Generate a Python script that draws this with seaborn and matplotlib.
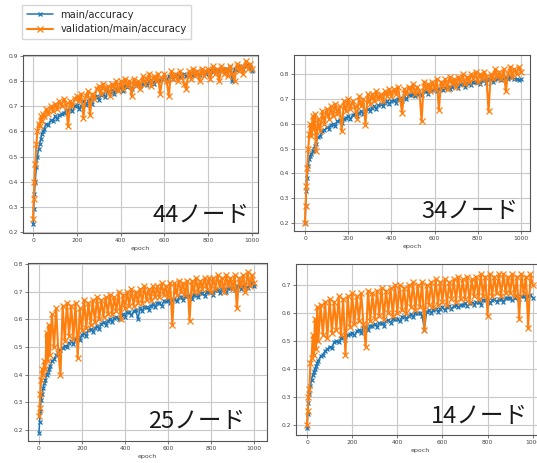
import matplotlib
matplotlib.use("Agg")
import matplotlib.pyplot as plt
import seaborn as sns
import pandas as pd

# ---------------- data ----------------
EPOCHS = [0, 3, 6, 10, 15, 20, 25, 30, 35, 40, 45] + list(range(50, 1001, 10))

main_44 = [0.23, 0.29, 0.35, 0.40, 0.46, 0.50, 0.53, 0.55, 0.57, 0.59, 0.60,
           0.61, 0.63, 0.625, 0.645, 0.64,
           0.66, 0.65, 0.665, 0.67, 0.675, 0.68, 0.685, 0.69, 0.68, 0.70,
           0.705, 0.69, 0.70, 0.72, 0.705, 0.72, 0.73, 0.71, 0.735, 0.74,
           0.725, 0.745, 0.75, 0.735, 0.76, 0.755, 0.765, 0.75, 0.77, 0.765,
           0.775, 0.76, 0.78, 0.775, 0.785, 0.77, 0.79, 0.785, 0.79, 0.78,
           0.79, 0.80, 0.785, 0.80, 0.805, 0.79, 0.81, 0.805, 0.80, 0.81,
           0.815, 0.80, 0.82, 0.815, 0.81, 0.82, 0.825, 0.815, 0.825, 0.83,
           0.82, 0.83, 0.83, 0.825, 0.83, 0.835, 0.825, 0.84, 0.835, 0.83,
           0.84, 0.845, 0.835, 0.845, 0.845, 0.84, 0.845, 0.85, 0.84, 0.85,
           0.855, 0.80, 0.85, 0.845, 0.86, 0.855, 0.85, 0.86, 0.865, 0.855,
           0.84]
val_44 = [0.25, 0.33, 0.40, 0.47, 0.55, 0.60, 0.63, 0.62, 0.66, 0.64, 0.67,
          0.66, 0.69, 0.67, 0.70, 0.68,
          0.71, 0.69, 0.72, 0.70, 0.73, 0.71, 0.62, 0.72, 0.70, 0.73,
          0.74, 0.72, 0.75, 0.655, 0.74, 0.76, 0.665, 0.75, 0.73, 0.77,
          0.78, 0.75, 0.79, 0.76, 0.78, 0.74, 0.79, 0.77, 0.80, 0.76,
          0.80, 0.77, 0.81, 0.78, 0.80, 0.74, 0.81, 0.78, 0.80, 0.77,
          0.82, 0.79, 0.81, 0.83, 0.78, 0.82, 0.80, 0.83, 0.75, 0.81,
          0.83, 0.80, 0.74, 0.84, 0.81, 0.83, 0.80, 0.84, 0.82, 0.79,
          0.77, 0.84, 0.81, 0.85, 0.82, 0.84, 0.80, 0.85, 0.82, 0.84,
          0.85, 0.81, 0.86, 0.83, 0.85, 0.80, 0.86, 0.83, 0.85, 0.82,
          0.86, 0.83, 0.80, 0.87, 0.84, 0.86, 0.83, 0.88, 0.85, 0.87,
          0.85]

main_34 = [0.20, 0.27, 0.33, 0.38, 0.43, 0.46, 0.47, 0.48, 0.49, 0.50, 0.51,
           0.52, 0.545, 0.55, 0.57, 0.575,
           0.585, 0.58, 0.595, 0.60, 0.59, 0.61, 0.615, 0.605, 0.62, 0.625,
           0.63, 0.62, 0.635, 0.64, 0.63, 0.645, 0.65, 0.64, 0.655, 0.66,
           0.65, 0.665, 0.67, 0.66, 0.675, 0.68, 0.67, 0.685, 0.69, 0.68,
           0.69, 0.695, 0.685, 0.70, 0.705, 0.69, 0.71, 0.70, 0.715, 0.715,
           0.72, 0.71, 0.72, 0.725, 0.715, 0.73, 0.73, 0.72, 0.735, 0.735,
           0.74, 0.73, 0.74, 0.745, 0.735, 0.745, 0.75, 0.74, 0.75, 0.755,
           0.755, 0.745, 0.76, 0.76, 0.75, 0.765, 0.765, 0.755, 0.77, 0.77,
           0.77, 0.76, 0.775, 0.775, 0.765, 0.78, 0.78, 0.77, 0.78, 0.785,
           0.785, 0.775, 0.785, 0.79, 0.78, 0.79, 0.79, 0.78, 0.78, 0.775,
           0.78]
val_34 = [0.20, 0.27, 0.35, 0.42, 0.50, 0.56, 0.60, 0.55, 0.63, 0.58, 0.64,
          0.49, 0.62, 0.57, 0.65, 0.60,
          0.66, 0.62, 0.67, 0.63, 0.68, 0.64, 0.67, 0.57, 0.69, 0.65,
          0.70, 0.66, 0.69, 0.67, 0.62, 0.71, 0.67, 0.70, 0.595, 0.72,
          0.68, 0.72, 0.69, 0.73, 0.70, 0.72, 0.69, 0.73, 0.71, 0.74,
          0.71, 0.74, 0.72, 0.75, 0.70, 0.645, 0.74, 0.72, 0.75, 0.73,
          0.76, 0.72, 0.75, 0.73, 0.61, 0.77, 0.74, 0.76, 0.73, 0.77,
          0.74, 0.78, 0.655, 0.77, 0.75, 0.78, 0.74, 0.79, 0.76, 0.78,
          0.75, 0.79, 0.77, 0.80, 0.76, 0.79, 0.77, 0.80, 0.78, 0.81,
          0.77, 0.80, 0.78, 0.81, 0.79, 0.65, 0.80, 0.78, 0.82, 0.79,
          0.81, 0.78, 0.82, 0.73, 0.80, 0.83, 0.79, 0.82, 0.80, 0.83,
          0.81]

main_25 = [0.19, 0.23, 0.27, 0.31, 0.33, 0.35, 0.37, 0.38, 0.40, 0.41, 0.42,
           0.43, 0.45, 0.455, 0.47, 0.475,
           0.49, 0.495, 0.505, 0.50, 0.515, 0.52, 0.51, 0.53, 0.535, 0.525,
           0.545, 0.55, 0.54, 0.56, 0.565, 0.555, 0.57, 0.575, 0.565, 0.585,
           0.59, 0.58, 0.595, 0.60, 0.59, 0.605, 0.61, 0.60, 0.615, 0.62,
           0.61, 0.625, 0.625, 0.615, 0.63, 0.635, 0.60, 0.64, 0.63, 0.645,
           0.645, 0.635, 0.65, 0.655, 0.645, 0.66, 0.66, 0.65, 0.665, 0.665,
           0.67, 0.66, 0.67, 0.675, 0.665, 0.68, 0.68, 0.67, 0.685, 0.685,
           0.685, 0.675, 0.69, 0.69, 0.68, 0.695, 0.695, 0.685, 0.70, 0.70,
           0.70, 0.69, 0.705, 0.705, 0.695, 0.71, 0.71, 0.70, 0.715, 0.715,
           0.715, 0.705, 0.72, 0.72, 0.71, 0.72, 0.725, 0.715, 0.725, 0.73,
           0.72]
val_25 = [0.25, 0.28, 0.33, 0.38, 0.42, 0.40, 0.45, 0.42, 0.55, 0.45, 0.58,
          0.47, 0.62, 0.50, 0.64, 0.48,
          0.40, 0.65, 0.52, 0.66, 0.54, 0.65, 0.53, 0.66, 0.46, 0.64,
          0.56, 0.67, 0.57, 0.66, 0.58, 0.67, 0.59, 0.68, 0.60, 0.67,
          0.61, 0.68, 0.62, 0.69, 0.62, 0.68, 0.63, 0.70, 0.60, 0.69,
          0.64, 0.70, 0.65, 0.71, 0.65, 0.70, 0.66, 0.71, 0.66, 0.72,
          0.67, 0.71, 0.67, 0.72, 0.68, 0.72, 0.68, 0.73, 0.69, 0.72,
          0.68, 0.73, 0.58, 0.73, 0.69, 0.74, 0.70, 0.73, 0.69, 0.74,
          0.595, 0.74, 0.70, 0.75, 0.70, 0.74, 0.71, 0.75, 0.71, 0.75,
          0.70, 0.75, 0.71, 0.76, 0.72, 0.75, 0.70, 0.76, 0.72, 0.75,
          0.71, 0.76, 0.64, 0.75, 0.72, 0.76, 0.70, 0.77, 0.72, 0.76,
          0.73]

main_14 = [0.19, 0.24, 0.28, 0.31, 0.34, 0.36, 0.38, 0.39, 0.40, 0.41, 0.42,
           0.43, 0.445, 0.45, 0.465, 0.47,
           0.48, 0.475, 0.495, 0.50, 0.495, 0.51, 0.515, 0.505, 0.52, 0.525,
           0.53, 0.52, 0.535, 0.54, 0.53, 0.545, 0.55, 0.54, 0.555, 0.555,
           0.56, 0.55, 0.565, 0.565, 0.555, 0.57, 0.575, 0.565, 0.58, 0.58,
           0.58, 0.57, 0.585, 0.59, 0.58, 0.59, 0.595, 0.585, 0.60, 0.60,
           0.60, 0.59, 0.54, 0.605, 0.61, 0.60, 0.61, 0.615, 0.605, 0.615,
           0.62, 0.61, 0.62, 0.625, 0.615, 0.625, 0.63, 0.62, 0.63, 0.63,
           0.635, 0.625, 0.635, 0.635, 0.63, 0.64, 0.64, 0.63, 0.645, 0.645,
           0.645, 0.635, 0.645, 0.65, 0.64, 0.65, 0.65, 0.64, 0.655, 0.655,
           0.655, 0.645, 0.655, 0.66, 0.65, 0.66, 0.66, 0.65, 0.66, 0.665,
           0.655]
val_14 = [0.20, 0.25, 0.30, 0.33, 0.42, 0.44, 0.52, 0.45, 0.58, 0.47, 0.62,
          0.50, 0.63, 0.52, 0.64, 0.51,
          0.65, 0.53, 0.64, 0.54, 0.66, 0.52, 0.65, 0.45, 0.66, 0.55,
          0.67, 0.56, 0.66, 0.57, 0.67, 0.56, 0.48, 0.68, 0.57, 0.67,
          0.58, 0.68, 0.59, 0.69, 0.58, 0.68, 0.60, 0.69, 0.59, 0.70,
          0.60, 0.70, 0.61, 0.69, 0.60, 0.70, 0.62, 0.71, 0.61, 0.70,
          0.62, 0.71, 0.54, 0.70, 0.63, 0.71, 0.62, 0.72, 0.63, 0.71,
          0.64, 0.72, 0.63, 0.71, 0.65, 0.72, 0.64, 0.73, 0.65, 0.72,
          0.65, 0.73, 0.64, 0.72, 0.66, 0.73, 0.65, 0.74, 0.66, 0.73,
          0.59, 0.74, 0.66, 0.73, 0.67, 0.74, 0.66, 0.74, 0.67, 0.73,
          0.67, 0.74, 0.66, 0.73, 0.58, 0.74, 0.67, 0.73, 0.545, 0.74,
          0.70]

PANEL_LABELS = ["44ノード", "34ノード", "25ノード", "14ノード"]
SERIES_NAMES = ["main/accuracy", "validation/main/accuracy"]
X_TICKS = [0, 200, 400, 600, 800, 1000]
Y_TICKS = [[0.2, 0.3, 0.4, 0.5, 0.6, 0.7, 0.8, 0.9],
           [0.2, 0.3, 0.4, 0.5, 0.6, 0.7, 0.8],
           [0.2, 0.3, 0.4, 0.5, 0.6, 0.7, 0.8],
           [0.2, 0.3, 0.4, 0.5, 0.6, 0.7]]

# ---------------- layout (pixels of a 537x463 canvas) ----------------
W, H = 537, 463
sns.set_style("ticks")
plt.rcParams["font.family"] = ["DejaVu Sans"]

fig = plt.figure(figsize=(W / 100, H / 100), dpi=100)

# (left, right, top, bottom) in px, xlim, ylim
boxes = [
    ((23, 258, 55, 233), (-46, 1027), (0.196, 0.904)),
    ((294, 530, 55, 231), (-51, 1042), (0.168, 0.877)),
    ((28, 267, 263, 441), (-51, 1060), (0.160, 0.804)),
    ((296, 544, 264, 435), (-49, 1050), (0.164, 0.775)),
]
text_pos = [(250, 222), (518, 218), (245, 428), (528, 423)]
series = [(main_44, val_44), (main_34, val_34), (main_25, val_25), (main_14, val_14)]
colors = ["#1f77b4", "#ff7f0e"]
widths = [1.1, 1.5]
msizes = [3.2, 3.8]

handles = None
for i, ((l, r, t, b), xl, yl) in enumerate(boxes):
    ax = fig.add_axes([l / W, 1 - b / H, (r - l) / W, (b - t) / H])
    df = pd.DataFrame({"epoch": EPOCHS, SERIES_NAMES[0]: series[i][0],
                       SERIES_NAMES[1]: series[i][1]})
    for name, c, lw, ms in zip(SERIES_NAMES, colors, widths, msizes):
        sns.lineplot(data=df, x="epoch", y=name, ax=ax, color=c, lw=lw,
                     marker="x", markersize=ms, markeredgecolor=c,
                     markeredgewidth=0.9, label=name, legend=False)
    ax.set_xlim(*xl)
    ax.set_ylim(*yl)
    ax.set_xticks(X_TICKS)
    ax.set_yticks(Y_TICKS[i])
    ax.set_yticklabels([f"{v:.1f}" for v in Y_TICKS[i]])
    ax.grid(True, color="#c8c8c8", lw=0.8)
    ax.set_axisbelow(True)
    ax.tick_params(labelsize=4.3, length=2, width=0.5, pad=1.5, colors="#444444")
    for s in ax.spines.values():
        s.set_color("#555555")
        s.set_linewidth(0.8)
    ax.set_ylabel("")
    ax.set_xlabel("epoch", fontsize=4.5, color="#444444", labelpad=2)
    if handles is None:
        handles = ax.get_lines()[:2]
    tx, ty = text_pos[i]
    fig.text(tx / W, 1 - ty / H, PANEL_LABELS[i], ha="right", va="baseline",
             fontsize=17, color="#1a1a1a",
             family=["Noto Sans CJK JP", "DejaVu Sans"])

fig.legend(handles, SERIES_NAMES, loc="upper left",
           bbox_to_anchor=(22 / W, 1 - 5 / H), borderaxespad=0, fontsize=7.2,
           frameon=True, handlelength=2.6, borderpad=0.45, labelspacing=0.5,
           fancybox=False, edgecolor="#cccccc")

fig.savefig("out.png", dpi=100)
